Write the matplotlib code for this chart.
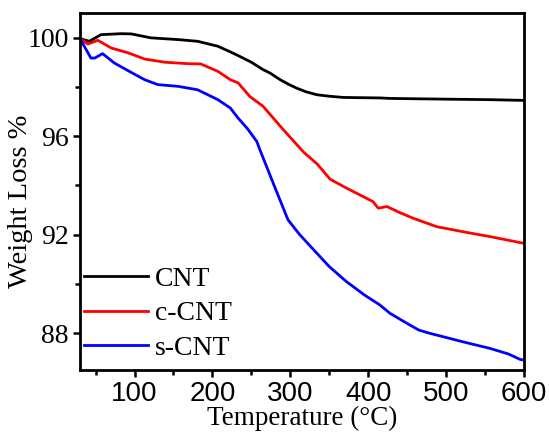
import matplotlib
matplotlib.use("Agg")
import matplotlib.pyplot as plt
from matplotlib.ticker import MultipleLocator

# данные (температура, °C и потеря массы, %)
t_cnt = [30, 42, 57, 83, 96, 121, 156, 181, 207, 223, 233, 250, 265, 274, 287, 298, 308, 320, 334, 350, 368, 390, 415, 428, 500, 556, 600]
w_cnt = [99.96, 99.85, 100.12, 100.16, 100.15, 99.99, 99.92, 99.85, 99.65, 99.42, 99.27, 99.0, 98.70, 98.56, 98.29, 98.1, 97.95, 97.8, 97.68, 97.62, 97.57, 97.56, 97.55, 97.53, 97.5, 97.48, 97.45]

t_c = [30, 40, 53, 70, 92, 113, 139, 169, 185, 207, 223, 233, 248, 265, 291, 317, 335, 351, 372, 390, 406, 413, 424, 440, 458, 488, 526, 556, 599]
w_c = [99.96, 99.74, 99.89, 99.58, 99.38, 99.13, 99.0, 98.94, 98.93, 98.63, 98.29, 98.16, 97.61, 97.21, 96.26, 95.35, 94.85, 94.25, 93.89, 93.6, 93.34, 93.07, 93.14, 92.9, 92.66, 92.32, 92.09, 91.92, 91.65]

t_s = [30, 44, 49, 59, 74, 95, 113, 130, 156, 181, 207, 223, 233, 245, 257, 261, 278, 297, 312, 330, 350, 372, 395, 415, 428, 450, 465, 479, 500, 522, 556, 580, 595, 600]
w_s = [99.96, 99.17, 99.17, 99.35, 98.97, 98.6, 98.29, 98.09, 98.02, 97.88, 97.48, 97.14, 96.73, 96.3, 95.78, 95.44, 94.09, 92.6, 92.0, 91.38, 90.7, 90.09, 89.55, 89.14, 88.8, 88.39, 88.12, 87.99, 87.82, 87.64, 87.38, 87.15, 86.93, 86.9]

labels = ["CNT", "c-CNT", "s-CNT"]
colors = ["black", "red", "blue"]

serif = "Liberation Serif"
sans = "Liberation Sans"

fig = plt.figure(figsize=(5.49, 4.36), dpi=100)
ax = fig.add_axes([0.1457, 0.1514, 0.8088, 0.8188])

for t, w, lab, c in zip([t_cnt, t_c, t_s], [w_cnt, w_c, w_s], labels, colors):
    ax.plot(t, w, color=c, lw=2.0, label=lab)

ax.set_xlim(30, 600)
ax.set_ylim(86.5, 101)
ax.xaxis.set_major_locator(MultipleLocator(100))
ax.xaxis.set_minor_locator(MultipleLocator(50))
ax.yaxis.set_major_locator(MultipleLocator(4))
ax.yaxis.set_minor_locator(MultipleLocator(2))
ax.tick_params(which="both", direction="out", width=1.8, top=False, right=False)
ax.tick_params(which="major", length=5, pad=3)
ax.tick_params(which="minor", length=3.5)
for s in ax.spines.values():
    s.set_linewidth(2.0)

for lbl in ax.get_yticklabels():
    lbl.set_fontfamily(serif)
    lbl.set_fontsize(20)
for lbl in ax.get_xticklabels():
    lbl.set_fontfamily(sans)
    lbl.set_fontsize(20)

ax.set_xlabel("Temperature (°C)", fontfamily=serif, fontsize=19.5, labelpad=-1)
ax.set_ylabel("Weight Loss %", fontfamily=serif, fontsize=20.5)
ax.yaxis.set_label_coords(-0.105, 0.473)

ax.legend(loc="lower left", frameon=False, prop={"family": serif, "size": 20},
          handlelength=2.3, handletextpad=0.25, labelspacing=0.33,
          borderaxespad=0.0, bbox_to_anchor=(-0.016, -0.006))

fig.savefig("out.png", dpi=100)
